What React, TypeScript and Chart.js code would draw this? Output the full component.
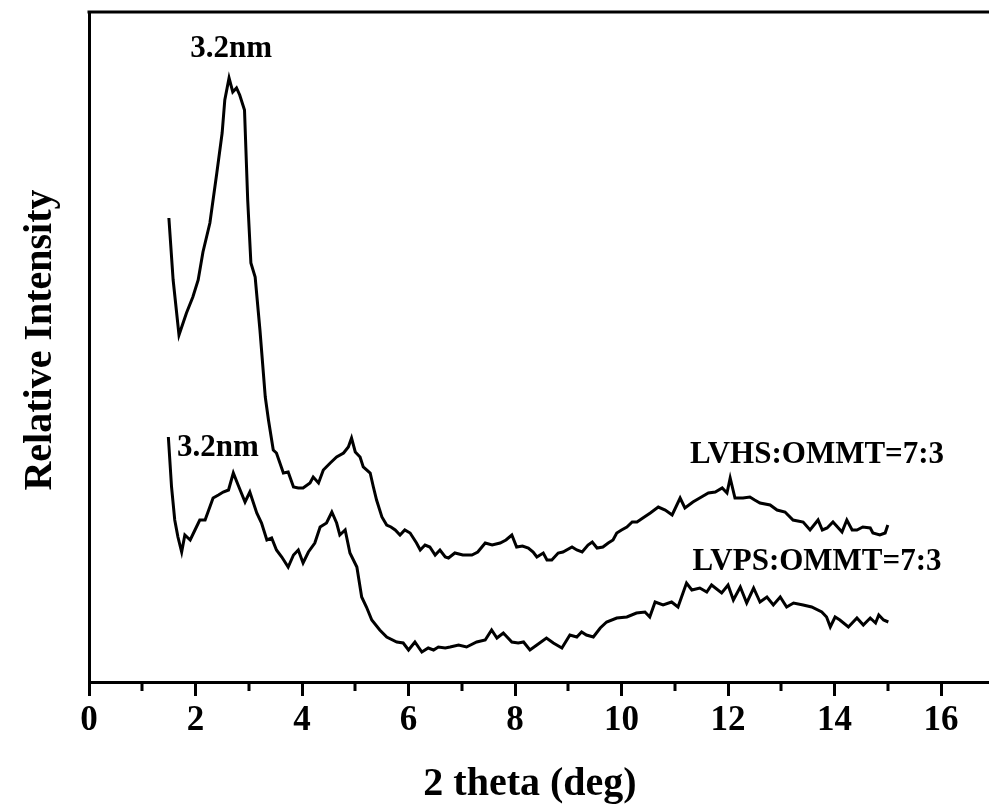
import { useEffect, useRef } from "react";
import { Chart, registerables } from "chart.js";

Chart.register(...registerables);

// LVHS:OMMT=7:3 (upper trace) — 2θ (deg) and relative intensity (a.u.)
const LVHS_X = [
  1.5, 1.58, 1.69, 1.83, 1.95, 2.05, 2.14, 2.27, 2.4, 2.5, 2.55, 2.63, 2.7, 2.77, 2.83, 2.92, 2.98, 3.04, 3.12, 3.21,
  3.31, 3.37, 3.46, 3.52, 3.65, 3.74, 3.84, 3.93, 4.02, 4.15, 4.21, 4.31, 4.4, 4.53, 4.65, 4.78, 4.87, 4.93, 5.0, 5.09,
  5.15, 5.28, 5.34, 5.4, 5.5, 5.59, 5.67, 5.75, 5.84, 5.93, 6.03, 6.15, 6.22, 6.31, 6.4, 6.5, 6.59, 6.69, 6.75, 6.87,
  7.02, 7.19, 7.3, 7.44, 7.57, 7.72, 7.83, 7.94, 8.03, 8.14, 8.25, 8.34, 8.41, 8.53, 8.6, 8.69, 8.81, 8.9, 9.07, 9.16,
  9.26, 9.37, 9.45, 9.54, 9.65, 9.75, 9.84, 9.91, 10.0, 10.1, 10.2, 10.29, 10.4, 10.54, 10.69, 10.82, 10.95, 11.1, 11.19, 11.34,
  11.5, 11.63, 11.76, 11.89, 11.98, 12.04, 12.13, 12.28, 12.41, 12.5, 12.6, 12.79, 12.92, 13.07, 13.22, 13.41, 13.54, 13.69, 13.77, 13.86,
  13.97, 14.14, 14.23, 14.33, 14.42, 14.53, 14.67, 14.72, 14.85, 14.95, 15.0,
];
const LVHS_Y = [
  464, 402, 347, 369, 385, 402, 430, 459, 509, 549, 582, 604, 590, 594, 587, 572, 482, 419, 405, 352,
  285, 262, 232, 229, 209, 210, 195, 194, 194, 199, 205, 199, 212, 219, 225, 229, 235, 244, 230, 225,
  215, 209, 195, 182, 165, 157, 155, 152, 147, 152, 149, 139, 132, 137, 135, 127, 132, 125, 124, 129,
  127, 127, 130, 139, 137, 139, 142, 147, 135, 136, 134, 130, 125, 129, 122, 122, 129, 130, 135, 132,
  130, 137, 140, 134, 135, 139, 142, 149, 152, 155, 160, 160, 164, 169, 175, 172, 167, 184, 174, 180,
  185, 189, 190, 194, 189, 204, 184, 184, 185, 182, 179, 177, 172, 170, 162, 160, 152, 162, 152, 154,
  160, 150, 162, 152, 152, 155, 154, 149, 147, 149, 157,
];

// LVPS:OMMT=7:3 (lower trace)
const LVPS_X = [
  1.49, 1.55, 1.61, 1.67, 1.74, 1.8, 1.9, 1.99, 2.08, 2.18, 2.33, 2.43, 2.52, 2.62, 2.71, 2.8, 2.93, 3.02, 3.15, 3.24,
  3.34, 3.43, 3.52, 3.62, 3.74, 3.84, 3.93, 4.02, 4.12, 4.24, 4.34, 4.46, 4.56, 4.65, 4.71, 4.81, 4.9, 5.03, 5.12, 5.21,
  5.31, 5.46, 5.59, 5.78, 5.9, 6.0, 6.12, 6.25, 6.37, 6.47, 6.56, 6.69, 6.78, 6.94, 7.09, 7.28, 7.44, 7.56, 7.66, 7.78,
  7.94, 8.06, 8.16, 8.28, 8.41, 8.59, 8.72, 8.88, 9.03, 9.16, 9.25, 9.34, 9.47, 9.6, 9.72, 9.91, 10.1, 10.28, 10.44, 10.53,
  10.63, 10.78, 10.94, 11.06, 11.22, 11.32, 11.47, 11.6, 11.69, 11.88, 12.0, 12.1, 12.23, 12.35, 12.48, 12.6, 12.73, 12.85, 12.98, 13.1,
  13.23, 13.41, 13.57, 13.76, 13.85, 13.92, 14.01, 14.1, 14.26, 14.42, 14.54, 14.67, 14.77, 14.83, 14.92, 15.01,
];
const LVPS_Y = [
  245, 195, 162, 145, 130, 147, 142, 152, 162, 162, 184, 187, 190, 192, 209, 197, 180, 190, 169, 159,
  142, 144, 132, 125, 115, 127, 132, 119, 130, 139, 155, 159, 170, 159, 147, 152, 129, 115, 85, 75,
  62, 52, 45, 40, 39, 32, 40, 30, 34, 32, 35, 34, 35, 37, 35, 40, 42, 52, 44, 49,
  40, 39, 40, 32, 37, 44, 39, 34, 47, 45, 50, 47, 45, 54, 60, 64, 65, 69, 70, 65,
  80, 77, 80, 75, 99, 92, 94, 90, 97, 89, 97, 82, 95, 79, 94, 80, 85, 77, 85, 75,
  79, 77, 75, 70, 65, 55, 65, 62, 55, 64, 57, 64, 59, 67, 62, 60,
];

const X_MIN = 0;
const X_MAX = 16.9;
const Y_MIN = 0;
const Y_MAX = 670;
const X_MAJOR_TICKS = [0, 2, 4, 6, 8, 10, 12, 14, 16];
const X_MINOR_TICKS = [1, 3, 5, 7, 9, 11, 13, 15];

const NOTE_TEXT = ["3.2nm", "3.2nm", "LVHS:OMMT=7:3", "LVPS:OMMT=7:3"];
const NOTE_X = [2.67, 2.42, 13.67, 13.67];
const NOTE_Y = [625, 226, 219, 112];

const X_TITLE = "2 theta (deg)";
const Y_TITLE = "Relative Intensity";

const FONT = '"Liberation Serif", "Times New Roman", serif';

const framePlugin = {
  id: "frame",
  afterDraw(chart: any) {
    const { ctx, chartArea, scales } = chart;
    const xs = scales.x;
    const ys = scales.y;
    ctx.save();
    ctx.strokeStyle = "#000";
    ctx.lineWidth = 3;
    ctx.beginPath();
    ctx.moveTo(chartArea.left - 1.5, chartArea.top);
    ctx.lineTo(chartArea.right, chartArea.top);
    ctx.stroke();
    ctx.beginPath();
    for (const v of X_MINOR_TICKS) {
      const px = Math.round(xs.getPixelForValue(v));
      ctx.moveTo(px, chartArea.bottom);
      ctx.lineTo(px, chartArea.bottom + 9);
    }
    ctx.stroke();
    ctx.fillStyle = "#000";
    ctx.textBaseline = "alphabetic";
    ctx.textAlign = "center";
    // axis titles
    ctx.font = `bold 40px ${FONT}`;
    ctx.fillText(X_TITLE, 530, 795);
    ctx.save();
    ctx.translate(51, 340);
    ctx.rotate(-Math.PI / 2);
    ctx.fillText(Y_TITLE, 0, 0);
    ctx.restore();
    // annotations
    ctx.font = `bold 31px ${FONT}`;
    NOTE_TEXT.forEach((t, i) => {
      ctx.fillText(t, xs.getPixelForValue(NOTE_X[i]), ys.getPixelForValue(NOTE_Y[i]));
    });
    ctx.restore();
  },
};

export default function App() {
  const ref = useRef<HTMLCanvasElement | null>(null);

  useEffect(() => {
    if (!ref.current) return;
    const chart = new Chart(ref.current, {
      type: "line",
      data: {
        datasets: [
          {
            label: "LVHS:OMMT=7:3",
            data: LVHS_X.map((x, i) => ({ x, y: LVHS_Y[i] })),
            borderColor: "#000",
            borderWidth: 3,
            pointRadius: 0,
            tension: 0,
            fill: false,
          },
          {
            label: "LVPS:OMMT=7:3",
            data: LVPS_X.map((x, i) => ({ x, y: LVPS_Y[i] })),
            borderColor: "#000",
            borderWidth: 3,
            pointRadius: 0,
            tension: 0,
            fill: false,
          },
        ],
      },
      options: {
        responsive: false,
        animation: false,
        layout: { padding: { top: 12, right: 0, bottom: 0, left: 0 } },
        plugins: { legend: { display: false }, tooltip: { enabled: false }, title: { display: false } },
        scales: {
          x: {
            type: "linear",
            min: X_MIN,
            max: X_MAX,
            afterBuildTicks: (scale: any) => {
              scale.ticks = X_MAJOR_TICKS.map((v) => ({ value: v }));
            },
            afterFit: (scale: any) => {
              scale.height = 124;
            },
            ticks: {
              color: "#000",
              font: { family: FONT, size: 35, weight: "bold" },
              padding: 4,
              maxRotation: 0,
              autoSkip: false,
              callback: (v: any) => String(v),
            },
            grid: {
              display: true,
              drawOnChartArea: false,
              drawTicks: true,
              tickLength: 14,
              tickWidth: 3,
              tickColor: "#000",
              color: "#000",
              lineWidth: 3,
            },
            border: { display: true, color: "#000", width: 3 },
            title: { display: false },
          },
          y: {
            type: "linear",
            min: Y_MIN,
            max: Y_MAX,
            afterFit: (scale: any) => {
              scale.width = 89;
            },
            ticks: { display: false },
            grid: { display: false },
            border: { display: true, color: "#000", width: 3 },
            title: { display: false },
          },
        },
      },
      plugins: [framePlugin],
    } as any);
    return () => chart.destroy();
  }, []);

  return (
    <div style={{ position: "absolute", left: 0, top: 0, width: 989, height: 806, background: "#fff" }}>
      <canvas ref={ref} width={989} height={806} style={{ display: "block" }} />
    </div>
  );
}
